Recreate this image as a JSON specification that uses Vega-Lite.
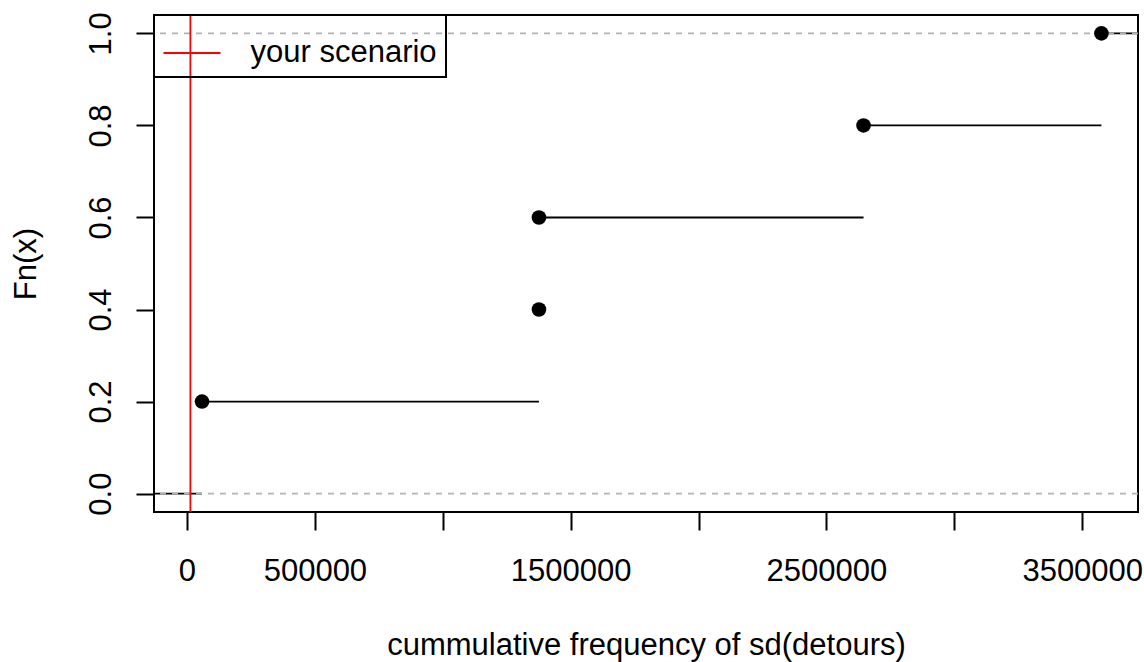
{
  "$schema": "https://vega.github.io/schema/vega-lite/v6.json",
  "width": 984,
  "height": 497,
  "autosize": {"type": "none"},
  "padding": {"left": 154, "top": 15, "right": 6, "bottom": 150},
  "background": "white",
  "config": {
    "view": {"stroke": "black", "strokeWidth": 2},
    "font": "Liberation Sans",
    "axis": {
      "grid": false,
      "domain": false,
      "tickColor": "black",
      "tickWidth": 2,
      "tickSize": 18,
      "labelFont": "Liberation Sans",
      "labelFontSize": 31,
      "labelColor": "black",
      "titleFont": "Liberation Sans",
      "titleFontSize": 31,
      "titleFontWeight": "normal",
      "titleColor": "black",
      "labelOverlap": false,
      "labelFlush": false
    },
    "legend": {"strokeWidth": 2}
  },
  "datasets": {
    "steps": [
      {"x": -129000, "x2": 58700, "y": 0},
      {"x": 58700, "x2": 1376000, "y": 0.2},
      {"x": 1376000, "x2": 2645000, "y": 0.6},
      {"x": 2645000, "x2": 3575000, "y": 0.8},
      {"x": 3575000, "x2": 3718000, "y": 1.0}
    ],
    "points": [
      {"x": 58700, "y": 0.2},
      {"x": 1376000, "y": 0.4},
      {"x": 1376000, "y": 0.6},
      {"x": 2645000, "y": 0.8},
      {"x": 3575000, "y": 1.0}
    ],
    "ref": [{"y": 0}, {"y": 1}],
    "scenario": [{"x": 13300, "label": "your scenario"}]
  },
  "layer": [
    {
      "data": {"name": "steps"},
      "mark": {"type": "rule", "color": "black", "strokeWidth": 1.8},
      "encoding": {
        "x": {
          "field": "x", "type": "quantitative",
          "scale": {"domain": [-129000, 3718000], "nice": false, "zero": false},
          "axis": {
            "values": [0, 500000, 1000000, 1500000, 2000000, 2500000, 3000000, 3500000],
            "format": "d",
            "labelExpr": "(datum.value == 1000000 || datum.value == 2000000 || datum.value == 3000000) ? '' : datum.label",
            "labelBaseline": "top",
            "labelAlign": "center",
            "labelPadding": 26,
            "title": "cummulative frequency of sd(detours)",
            "titleBaseline": "alphabetic",
            "titleAlign": "center",
            "titleX": 492,
            "titleY": 142
          }
        },
        "x2": {"field": "x2"},
        "y": {
          "field": "y", "type": "quantitative",
          "scale": {"domain": [-0.04, 1.04], "nice": false, "zero": false},
          "axis": {
            "values": [0, 0.2, 0.4, 0.6, 0.8, 1.0],
            "format": ".1f",
            "labelAngle": -90,
            "labelAlign": "center",
            "labelBaseline": "alphabetic",
            "labelPadding": 25.5,
            "title": "Fn(x)",
            "titleAngle": -90,
            "titleAlign": "center",
            "titleBaseline": "alphabetic",
            "titleX": -118.5,
            "titleY": 248.5
          }
        }
      }
    },
    {
      "data": {"name": "ref"},
      "mark": {"type": "rule", "color": "#b3b3b3", "strokeWidth": 1.8, "strokeDash": [6, 6]},
      "encoding": {
        "y": {"field": "y", "type": "quantitative"}
      }
    },
    {
      "data": {"name": "points"},
      "mark": {"type": "point", "filled": true, "shape": "circle", "color": "black", "size": 214, "opacity": 1},
      "encoding": {
        "x": {"field": "x", "type": "quantitative"},
        "y": {"field": "y", "type": "quantitative"}
      }
    },
    {
      "data": {"name": "scenario"},
      "mark": {"type": "rule", "strokeWidth": 1.8},
      "encoding": {
        "x": {"field": "x", "type": "quantitative"},
        "color": {
          "field": "label", "type": "nominal",
          "scale": {"domain": ["your scenario"], "range": ["#ff0000"]},
          "legend": {
            "title": null,
            "orient": "top-left",
            "offset": 0,
            "padding": 8.5,
            "strokeColor": "black",
            "fillColor": null,
            "symbolType": "stroke",
            "symbolSize": 3249,
            "symbolStrokeWidth": 1.8,
            "labelFont": "Liberation Sans",
            "labelFontSize": 31,
            "labelColor": "black",
            "labelOffset": 29,
            "labelBaseline": "middle",
            "labelLimit": 0
          }
        }
      }
    }
  ]
}
